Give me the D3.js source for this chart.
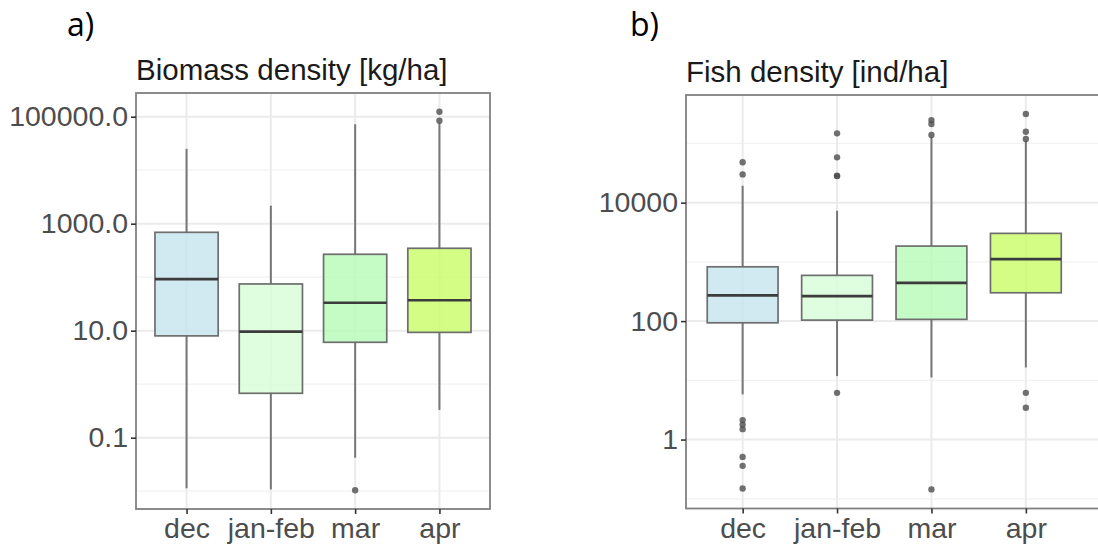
<!DOCTYPE html>
<html>
<head>
<meta charset="utf-8">
<script src="https://cdn.jsdelivr.net/npm/d3@7"></script>
<style>
  html, body { margin: 0; padding: 0; background: #fff; }
  svg { display: block; }
  text { font-family: "Liberation Sans", Arial, sans-serif; }
</style>
</head>
<body>
<svg id="chart" width="1098" height="550"></svg>
<script>
// Sampling periods
const categories = ["dec", "jan-feb", "mar", "apr"];
const boxFills = ["#c5e3ec", "#d7fcd7", "#b6fab6", "#c8fc65"];

// Biomass density [kg/ha] — box statistics per period
const bioWhiskerLow  = [0.0113, 0.0108, 0.0423, 0.33];
const bioQ1          = [8.0, 0.676, 6.07, 9.3];
const bioMedian      = [92, 9.6, 33.3, 37];
const bioQ3          = [690, 74.7, 268, 347];
const bioWhiskerHigh = [25000, 2170, 72000, 76000];
const bioOutliers    = [[], [], [0.0104], [84000, 124000]];
const bioTicks       = [0.1, 10, 1000, 100000];
const bioTickLabels  = ["0.1", "10.0", "1000.0", "100000.0"];
const bioMinor       = [0.01, 1, 100, 10000];

// Fish density [ind/ha] — box statistics per period
const fishWhiskerLow  = [5.78, 11.8, 11.2, 16.5];
const fishQ1          = [93.6, 104, 107, 301];
const fishMedian      = [272, 264, 443, 1114];
const fishQ3          = [826, 592, 1850, 3030];
const fishWhiskerHigh = [19300, 7300, 128000, 110000];
const fishOutliers    = [
  [0.149, 0.36, 0.51, 1.50, 1.79, 2.13, 30000, 48000],
  [6.15, 28100, 28600, 58200, 148000],
  [0.144, 139000, 213000, 248000],
  [3.44, 6.15, 119000, 158000, 314000]
];
const fishTicks      = [1, 100, 10000];
const fishTickLabels = ["1", "100", "10000"];
const fishMinor      = [0.1, 10, 1000, 100000];

const svg = d3.select("#chart");

function panel(opts) {
  const { left, right, top, bottom, frameRight, yDomain, title, tag, tagX,
          low, q1, med, q3, high, outliers, ticks, tickLabels, minor } = opts;

  const x = d3.scalePoint().domain(categories).range([left, right]).padding(0.6);
  const y = d3.scaleLog().domain(yDomain).range([bottom, top]);
  const boxW = x.step() * 0.75;
  const g = svg.append("g");

  // grid
  g.selectAll(".minor").data(minor).join("line")
    .attr("x1", left).attr("x2", frameRight)
    .attr("y1", d => y(d)).attr("y2", d => y(d))
    .attr("stroke", "#f2f2f2").attr("stroke-width", 1.2);
  g.selectAll(".major").data(ticks).join("line")
    .attr("x1", left).attr("x2", frameRight)
    .attr("y1", d => y(d)).attr("y2", d => y(d))
    .attr("stroke", "#ebebeb").attr("stroke-width", 2);
  g.selectAll(".vgrid").data(categories).join("line")
    .attr("x1", d => x(d)).attr("x2", d => x(d))
    .attr("y1", top).attr("y2", bottom)
    .attr("stroke", "#ebebeb").attr("stroke-width", 2);

  const stats = categories.map((c, i) => ({
    c, i, low: low[i], q1: q1[i], med: med[i], q3: q3[i], high: high[i], out: outliers[i]
  }));

  // whiskers
  g.selectAll(".whisk").data(stats).join("g").each(function (d) {
    const s = d3.select(this);
    s.append("line").attr("x1", x(d.c)).attr("x2", x(d.c))
      .attr("y1", y(d.q3)).attr("y2", y(d.high))
      .attr("stroke", "#777").attr("stroke-width", 2);
    s.append("line").attr("x1", x(d.c)).attr("x2", x(d.c))
      .attr("y1", y(d.q1)).attr("y2", y(d.low))
      .attr("stroke", "#777").attr("stroke-width", 2);
  });

  // boxes
  g.selectAll(".box").data(stats).join("rect")
    .attr("x", d => x(d.c) - boxW / 2).attr("width", boxW)
    .attr("y", d => y(d.q3)).attr("height", d => y(d.q1) - y(d.q3))
    .attr("fill", d => boxFills[d.i]).attr("fill-opacity", 0.8)
    .attr("stroke", "#6e6e6e").attr("stroke-width", 1.7);

  // medians
  g.selectAll(".med").data(stats).join("line")
    .attr("x1", d => x(d.c) - boxW / 2).attr("x2", d => x(d.c) + boxW / 2)
    .attr("y1", d => y(d.med)).attr("y2", d => y(d.med))
    .attr("stroke", "#3c3c3c").attr("stroke-width", 2.6);

  // outliers
  const pts = stats.flatMap(d => d.out.map(v => ({ c: d.c, v })));
  g.selectAll(".out").data(pts).join("circle")
    .attr("cx", d => x(d.c)).attr("cy", d => y(d.v)).attr("r", 3.2)
    .attr("fill", "#4d4d4d").attr("fill-opacity", 0.8);

  // panel border
  g.append("rect").attr("x", left).attr("y", top)
    .attr("width", frameRight - left).attr("height", bottom - top)
    .attr("fill", "none").attr("stroke", "#808080").attr("stroke-width", 1.8);

  // y axis
  const yAxis = d3.axisLeft(y).tickValues(ticks)
    .tickFormat((d, i) => tickLabels[i]).tickSize(5).tickPadding(3);
  const ya = g.append("g").attr("transform", `translate(${left},0)`).call(yAxis);
  ya.select(".domain").remove();
  ya.selectAll(".tick line").attr("stroke", "#333").attr("stroke-width", 1.6);
  ya.selectAll(".tick text").attr("fill", "#4d4d4d")
    .style("font-size", "28.5px").style("font-family", "Liberation Sans, Arial, sans-serif");

  // x axis
  const xAxis = d3.axisBottom(x).tickSize(5).tickPadding(4);
  const xa = g.append("g").attr("transform", `translate(0,${bottom})`).call(xAxis);
  xa.select(".domain").remove();
  xa.selectAll(".tick line").attr("stroke", "#333").attr("stroke-width", 1.6);
  xa.selectAll(".tick text").attr("fill", "#4d4d4d")
    .style("font-size", "28.5px").style("font-family", "Liberation Sans, Arial, sans-serif");

  // title
  g.append("text").attr("x", left).attr("y", top - 13)
    .attr("fill", "#1a1a1a").style("font-size", "29.5px").text(title);

  // panel tag
  g.append("text").attr("x", tagX).attr("y", 36)
    .attr("fill", "#000").style("font-size", "32px")
    .style("font-family", "Open Sans, Noto Sans, sans-serif").text(tag);
}

panel({
  left: 136, right: 490, top: 93, bottom: 509, frameRight: 490,
  yDomain: [Math.pow(10, -2.333), Math.pow(10, 5.443)],
  title: "Biomass density [kg/ha]", tag: "a)", tagX: 67,
  low: bioWhiskerLow, q1: bioQ1, med: bioMedian, q3: bioQ3, high: bioWhiskerHigh,
  outliers: bioOutliers, ticks: bioTicks, tickLabels: bioTickLabels, minor: bioMinor
});

panel({
  left: 686, right: 1082.5, top: 95, bottom: 508.5, frameRight: 1110,
  yDomain: [Math.pow(10, -1.164), Math.pow(10, 5.818)],
  title: "Fish density [ind/ha]", tag: "b)", tagX: 630,
  low: fishWhiskerLow, q1: fishQ1, med: fishMedian, q3: fishQ3, high: fishWhiskerHigh,
  outliers: fishOutliers, ticks: fishTicks, tickLabels: fishTickLabels, minor: fishMinor
});
</script>
</body>
</html>
